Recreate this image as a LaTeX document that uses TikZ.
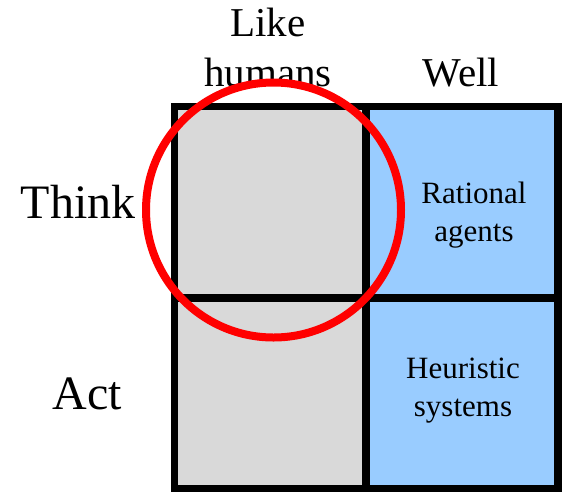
\documentclass[tikz,border=0pt]{standalone}
\usepackage{fontspec}
\setmainfont{Liberation Serif}
\definecolor{cellgray}{HTML}{D9D9D9}
\definecolor{cellblue}{HTML}{99CCFF}
\definecolor{ringred}{HTML}{FF0000}
\begin{document}
\begin{tikzpicture}[x=1pt,y=-1pt,
  cell/.style={draw=black, line width=7.5pt, inner sep=0pt, outer sep=0pt, rectangle},
  head/.style={inner sep=0pt, align=center, font=\fontsize{41}{50}\selectfont},
  side/.style={inner sep=0pt, anchor=base, font=\fontsize{48}{56}\selectfont},
  celltext/.style={inner sep=0pt, align=center, font=\fontsize{31}{38}\selectfont},
  ring/.style={draw=ringred, line width=8pt, circle, inner sep=0pt, minimum size=255pt}]
\useasboundingbox (0,0) rectangle (565,491);
% cells
\node[cell, fill=cellgray, minimum width=191.5pt, minimum height=191.5pt] (thinkhuman) at (270.25,202.25) {};
\node[cell, fill=cellblue, minimum width=192pt, minimum height=191.5pt] (thinkwell) at (462,202.25) {};
\node[cell, fill=cellgray, minimum width=191.5pt, minimum height=191pt] (acthuman) at (270.25,393.5) {};
\node[cell, fill=cellblue, minimum width=192pt, minimum height=191pt] (actwell) at (462,393.5) {};
% labels
\node[head] (likehumans) at (268,47) {Like\\humans};
\node[head, anchor=base] (well) at (461,86) {Well};
\node[side] (think) at (78,218) {Think};
\node[side] (act) at (87,409) {Act};
\node[celltext] (rational) at (474,215) {Rational\\agents};
\node[celltext] (heuristic) at (463,391) {Heuristic\\systems};
% highlight ring
\node[ring] (focus) at (273.5,210) {};
\end{tikzpicture}
\end{document}
